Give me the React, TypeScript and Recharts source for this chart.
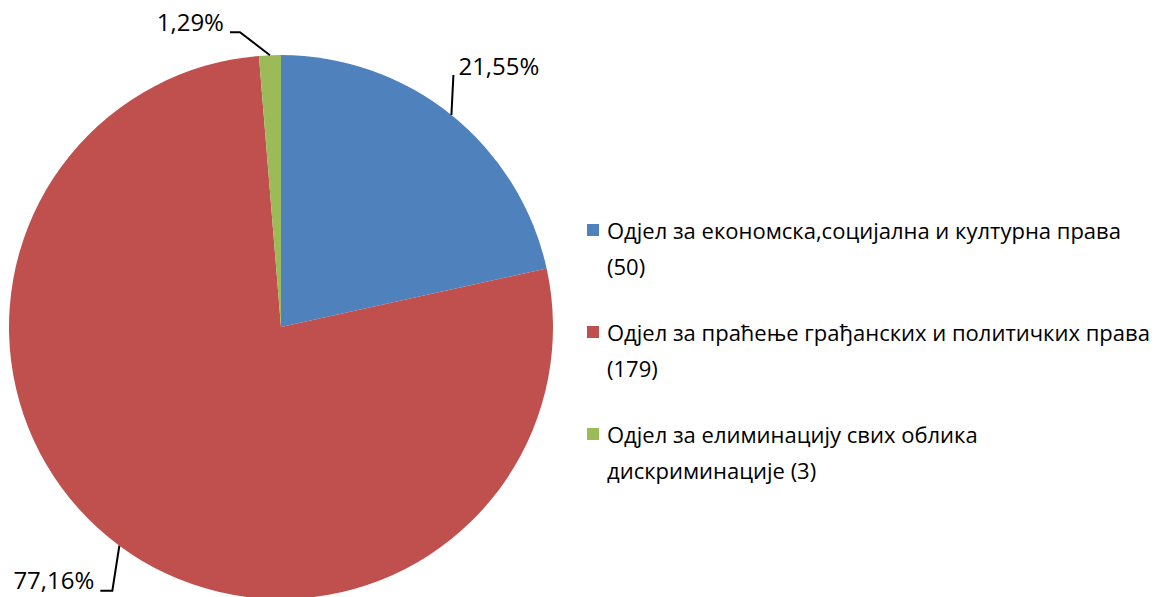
import React from "react";
import { PieChart, Pie, Cell, Legend } from "recharts";

// Data
const departments = [
  "Одјел за економска,социјална и културна права (50)",
  "Одјел за праћење грађанских и политичких права (179)",
  "Одјел за елиминацију свих облика дискриминације (3)",
];
const legendLines = [
  ["Одјел за економска,социјална и културна права", "(50)"],
  ["Одјел за праћење грађанских и политичких права", "(179)"],
  ["Одјел за елиминацију свих облика", "дискриминације (3)"],
];
const counts = [50, 179, 3];
const colors = ["#4F81BD", "#C0504D", "#9BBB59"];

const data = departments.map((name, i) => ({ name, value: counts[i] }));

const FONT = "'Open Sans', sans-serif";

// leader line bends, relative to the slice edge point
const bends = [
  [[2, -40]],
  [[-7, 45], [-19, 45]],
  [[-30, -23], [-40, -23]],
];
const textPos = [
  { dx: 5, dy: 0, anchor: "start" },
  { dx: -25, dy: -2, anchor: "end" },
  { dx: -46, dy: -1, anchor: "end" },
];

const renderLabel = (props: any) => {
  const { cx, cy, midAngle, outerRadius, percent, index } = props;
  const RAD = Math.PI / 180;
  const ex = cx + outerRadius * Math.cos(-midAngle * RAD);
  const ey = cy + outerRadius * Math.sin(-midAngle * RAD);
  const pts = [[ex, ey], ...bends[index].map(([dx, dy]) => [ex + dx, ey + dy])];
  const last = pts[pts.length - 1];
  const tp = textPos[index];
  const txt = (percent * 100).toFixed(2).replace(".", ",") + "%";
  return (
    <g>
      <polyline
        points={pts.map((p) => p.join(",")).join(" ")}
        fill="none"
        stroke="#000"
        strokeWidth={2}
      />
      <text
        x={index === 0 ? last[0] + tp.dx : ex + tp.dx}
        y={last[1] + tp.dy}
        textAnchor={tp.anchor as any}
        fontFamily={FONT}
        fontSize={24}
        fill="#000"
      >
        {txt}
      </text>
    </g>
  );
};

const renderLegend = () => (
  <div style={{ fontFamily: FONT, fontSize: 22, color: "#000" }}>
    {legendLines.map((lines, i) => (
      <div key={i} style={{ display: "flex", marginBottom: 30 }}>
        <div
          style={{
            width: 12,
            height: 12,
            background: colors[i],
            marginTop: 12,
            marginRight: 8,
            flexShrink: 0,
          }}
        />
        <div style={{ lineHeight: "36px" }}>
          {lines.map((l, j) => (
            <div key={j} style={{ whiteSpace: "nowrap" }}>
              {l}
            </div>
          ))}
        </div>
      </div>
    ))}
  </div>
);

const App = () => {
  return (
    <div style={{ position: "absolute", left: 0, top: 0, width: 1175, height: 597, background: "#fff", overflow: "hidden" }}>
      <PieChart width={1175} height={597} margin={{ top: 0, right: 0, bottom: 0, left: 0 }}>
        <Pie
          data={data}
          dataKey="value"
          nameKey="name"
          cx={281}
          cy={327}
          outerRadius={272}
          startAngle={90}
          endAngle={-270}
          stroke="none"
          label={renderLabel}
          labelLine={false}
          isAnimationActive={false}
        >
          {data.map((d, i) => (
            <Cell key={d.name} fill={colors[i]} />
          ))}
        </Pie>
        <Legend
          layout="vertical"
          align="right"
          verticalAlign="top"
          content={renderLegend}
          wrapperStyle={{ left: 587, top: 212, width: 588 }}
        />
      </PieChart>
    </div>
  );
};

export default App;
